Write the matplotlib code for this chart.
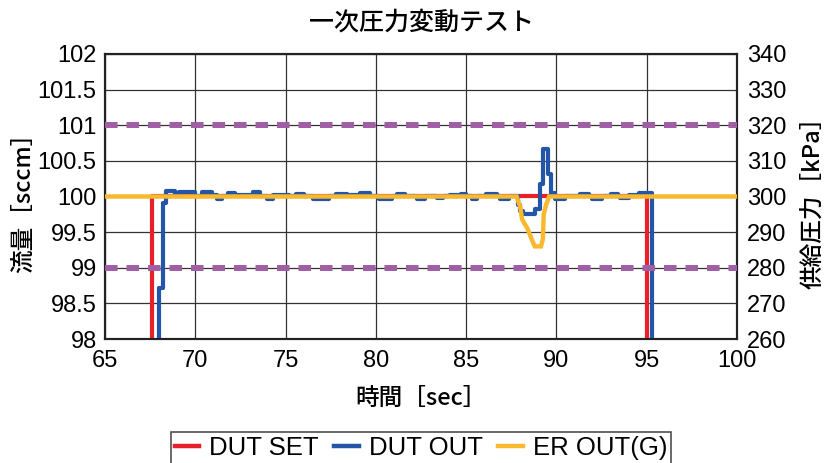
import numpy as np
import matplotlib
matplotlib.use('Agg')
import matplotlib.pyplot as plt
import matplotlib.ticker as ticker

plt.rcParams['font.family'] = ['Liberation Sans', 'Noto Sans CJK JP', 'DejaVu Sans']
jp = ['Noto Sans CJK JP', 'DejaVu Sans']

# DUT SET [sccm], steps
set_t = [65.0, 67.63, 95.0, 100.0]
set_v = [97.0, 100.0, 97.0, 97.0]

# DUT OUT [sccm], steps
out_t = [65.0, 67.97, 68.22, 68.37, 68.9, 69.1, 70.0, 70.4, 70.9, 71.2, 71.5, 71.8,
         72.2, 73.2, 73.6, 74.0, 74.3, 75.2, 75.6, 76.0, 76.5, 77.4, 77.8, 78.4,
         79.1, 79.7, 80.2, 80.9, 81.2, 81.6, 82.3, 82.7, 83.4, 83.7, 84.1, 84.7,
         85.0, 85.3, 85.6, 86.1, 86.7, 86.9, 87.4, 87.86, 88.0, 88.15, 88.8, 89.07,
         89.26, 89.53, 89.7, 89.9, 90.5, 91.3, 91.8, 92.0, 92.5, 93.0, 93.4, 93.5,
         94.0, 94.6, 95.27, 100.0]
out_v = [97.0, 98.72, 99.91, 100.08, 100.04, 100.07, 100.0, 100.06, 100.02, 99.96, 100.0, 100.05,
         100.02, 100.06, 100.0, 99.97, 100.02, 100.0, 100.03, 100.0, 99.96, 100.0, 100.04, 100.02,
         100.05, 100.0, 99.96, 100.0, 100.03, 100.0, 99.97, 100.0, 99.98, 100.0, 100.02, 100.04,
         100.0, 99.97, 100.0, 100.04, 100.0, 99.97, 100.0, 99.88, 99.8, 99.75, 99.82, 100.18,
         100.67, 100.32, 100.05, 99.97, 100.0, 100.03, 100.0, 99.97, 100.0, 100.03, 100.0, 99.98,
         100.02, 100.05, 97.0, 97.0]

# ER OUT(G) [kPa]
er_t = [65.0, 87.8, 88.0, 88.1, 88.4, 88.6, 88.8, 89.15, 89.25, 89.3, 89.45, 89.6, 100.0]
er_v = [300.0, 300.0, 297.0, 293.6, 291.0, 288.4, 286.0, 286.0, 288.0, 295.0, 298.0, 300.0, 300.0]

limit_hi = 101.0
limit_lo = 99.0

fig = plt.figure(figsize=(8.28, 4.63), dpi=100)
ax = fig.add_axes([0.1268, 0.2678, 0.7632, 0.6156])
ax2 = ax.twinx()

ax.step(set_t, set_v, where='post', color='#e8202a', lw=3, zorder=3, label='DUT SET')
ax.step(out_t, out_v, where='post', color='#2356a8', lw=3, zorder=4, label='DUT OUT')
ax2.plot(er_t, er_v, color='#f9b92e', lw=3.2, zorder=5, solid_joinstyle='miter')
ax.plot([], [], color='#f9b92e', lw=3, label='ER OUT(G)')
for y in (limit_hi, limit_lo):
    ax2.axhline(300 + (y - 100) * 20, color='#a05fa5', lw=4.3, dashes=(2.1, 1.5),
                dash_capstyle='butt', zorder=6)

ax.set_xlim(65, 100)
ax.set_ylim(98, 102)
ax2.set_ylim(260, 340)
ax.xaxis.set_major_locator(ticker.MultipleLocator(5))
ax.yaxis.set_major_locator(ticker.MultipleLocator(0.5))
ax2.yaxis.set_major_locator(ticker.MultipleLocator(10))
ax.yaxis.set_major_formatter(ticker.FuncFormatter(lambda v, p: f'{v:g}'))
ax.grid(which='major', color='#333333', lw=0.9)
ax.set_axisbelow(True)

ax.tick_params(axis='y', length=0, pad=6, labelsize=17)
ax.tick_params(axis='x', length=0, pad=8, labelsize=17)
ax2.tick_params(axis='y', length=0, pad=7, labelsize=17)
for a in (ax, ax2):
    for s in a.spines.values():
        s.set_linewidth(1.5)
        s.set_color('#222222')

fig.text(0.5085, 0.952, '一次圧力変動テスト', family=jp, fontsize=18,
         ha='center', va='center', fontweight='medium')
fig.text(0.5085, 0.14, '時間［sec］', family=jp, fontsize=17,
         ha='center', va='center', fontweight='medium')
fig.text(0.028, 0.5756, '流量［sccm］', family=jp, fontsize=17,
         ha='center', va='center', rotation=90, fontweight='medium')
fig.text(0.982, 0.5756, '供給圧力［kPa］', family=jp, fontsize=17,
         ha='center', va='center', rotation=90, fontweight='medium')

leg = ax.legend(loc='upper center', bbox_to_anchor=(0.5085, 1 - 432 / 463),
                bbox_transform=fig.transFigure, ncol=3, fontsize=18.5,
                frameon=True, fancybox=False, edgecolor='#222222',
                handlelength=0.95, handletextpad=0.4, columnspacing=0.6,
                borderpad=0.15, borderaxespad=0)
leg.get_frame().set_linewidth(1.2)
for h in leg.legend_handles:
    h.set_linewidth(3.2)

fig.savefig('out.png', dpi=100)
